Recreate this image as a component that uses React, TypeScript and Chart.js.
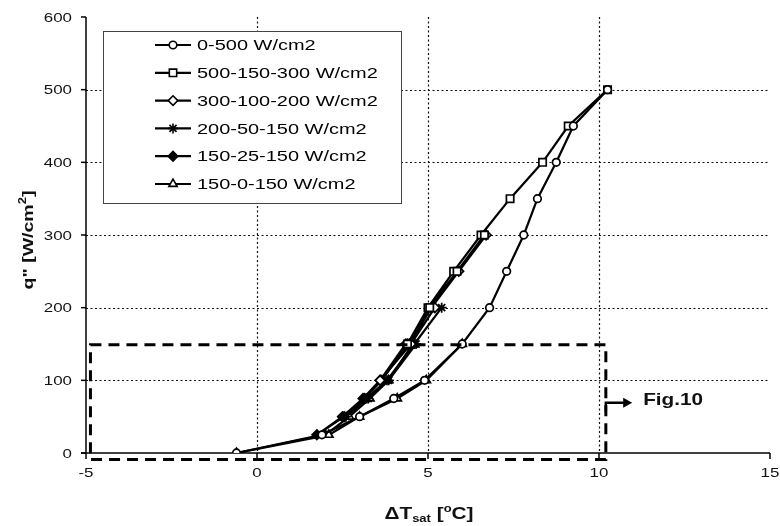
import React, { useEffect, useRef } from "react";
import { Chart, registerables } from "chart.js";
import { drawPoint } from "chart.js/helpers";

Chart.register(...registerables);

// Axis ranges and tick values
const X_MIN = -5;
const X_MAX = 15;
const X_STEP = 5;
const Y_MIN = 0;
const Y_MAX = 600;
const Y_STEP = 100;

// Series names
const SERIES_LABELS = [
  "0-500 W/cm2",
  "500-150-300 W/cm2",
  "300-100-200 W/cm2",
  "200-50-150 W/cm2",
  "150-25-150 W/cm2",
  "150-0-150 W/cm2",
];

// Wall superheat ΔTsat [°C] and heat flux q'' [W/cm2] for each run
const DT_0_500 = [-0.6, 1.9, 3.0, 4.0, 4.9, 6.0, 6.8, 7.3, 7.8, 8.2, 8.75, 9.25, 10.25];
const Q_0_500 = [0, 25, 50, 75, 100, 150, 200, 250, 300, 350, 400, 450, 500];

const DT_500_150_300 = [10.25, 9.1, 8.35, 7.4, 6.55, 5.75, 5.0, 4.4, 5.05, 5.85, 6.65];
const Q_500_150_300 = [500, 450, 400, 350, 300, 250, 200, 150, 200, 250, 300];

const DT_300_100_200 = [6.7, 5.9, 5.1, 4.45, 3.6, 4.5, 5.2];
const Q_300_100_200 = [300, 250, 200, 150, 100, 150, 200];

const DT_200_50_150 = [5.4, 4.6, 3.8, 3.2, 2.6, 3.25, 3.85, 4.65];
const Q_200_50_150 = [200, 150, 100, 75, 50, 75, 100, 150];

const DT_150_25_150 = [4.35, 3.6, 3.1, 2.5, 1.75, 2.55, 3.15, 3.65, 4.4];
const Q_150_25_150 = [150, 100, 75, 50, 25, 50, 75, 100, 150];

const DT_150_0_150 = [4.55, 3.85, 3.3, 2.7, 2.0, -0.6, 2.1, 3.0, 4.1, 4.95, 6.0];
const Q_150_0_150 = [150, 100, 75, 50, 25, 0, 25, 50, 75, 100, 150];

const SERIES_DT = [DT_0_500, DT_500_150_300, DT_300_100_200, DT_200_50_150, DT_150_25_150, DT_150_0_150];
const SERIES_Q = [Q_0_500, Q_500_150_300, Q_300_100_200, Q_200_50_150, Q_150_25_150, Q_150_0_150];

// Marker look per series
const POINT_STYLES = ["circle", "rect", "rectRot", "star", "rectRot", "triangle"];
const POINT_RADII = [3.8, 5.2, 4.8, 5, 4.8, 4.8];
const POINT_FILLS = ["#fff", "#fff", "#fff", "#000", "#000", "#fff"];

// Zoomed region outline (data units) and its caption
const ZOOM_BOX_X = [-4.87, 10.2];
const ZOOM_BOX_Y = [-9, 149];
const ZOOM_ARROW_Y = 69;
const ZOOM_ARROW_END_X = 10.97;
const ZOOM_CAPTION = "Fig.10";

const TEXT_STRETCH = 1.3;
const FONT = "'Liberation Sans', Arial, sans-serif";

type Seg = { t: string; size: number; dy: number };

function wideText(
  ctx: CanvasRenderingContext2D,
  text: string,
  x: number,
  y: number,
  font: string,
  align: CanvasTextAlign,
  sx = TEXT_STRETCH
) {
  ctx.save();
  ctx.translate(x, y);
  ctx.scale(sx, 1);
  ctx.font = font;
  ctx.textAlign = align;
  ctx.textBaseline = "middle";
  ctx.fillText(text, 0, 0);
  ctx.restore();
}

function richText(
  ctx: CanvasRenderingContext2D,
  segs: Seg[],
  x: number,
  y: number,
  rotate: number,
  sx = TEXT_STRETCH
) {
  ctx.save();
  ctx.translate(x, y);
  ctx.rotate(rotate);
  ctx.scale(sx, 1);
  ctx.textAlign = "left";
  ctx.textBaseline = "alphabetic";
  const widths = segs.map((s) => {
    ctx.font = `bold ${s.size}px ${FONT}`;
    return ctx.measureText(s.t).width;
  });
  let cx = -widths.reduce((a, b) => a + b, 0) / 2;
  segs.forEach((s, i) => {
    ctx.font = `bold ${s.size}px ${FONT}`;
    ctx.fillText(s.t, cx, s.dy);
    cx += widths[i];
  });
  ctx.restore();
}

function seg(
  ctx: CanvasRenderingContext2D,
  x1: number,
  y1: number,
  x2: number,
  y2: number
) {
  ctx.beginPath();
  ctx.moveTo(x1, y1);
  ctx.lineTo(x2, y2);
  ctx.stroke();
}

const framePlugin = {
  id: "frame",
  beforeDatasetsDraw(chart: any) {
    const { ctx, chartArea: a, scales } = chart;
    const xs = scales.x;
    const ys = scales.y;
    ctx.save();
    // dotted grid inside the plot
    ctx.strokeStyle = "#111";
    ctx.lineWidth = 1.2;
    ctx.setLineDash([2, 2.5]);
    xs.ticks.forEach((t: any) => {
      if (t.value === xs.min || t.value === xs.max) return;
      const px = Math.round(xs.getPixelForValue(t.value)) + 0.5;
      seg(ctx, px, a.top, px, a.bottom);
    });
    ys.ticks.forEach((t: any) => {
      if (t.value === ys.min || t.value === ys.max) return;
      const py = Math.round(ys.getPixelForValue(t.value)) + 0.5;
      seg(ctx, a.left, py, a.right, py);
    });
    // solid axes with outward tick marks
    ctx.setLineDash([]);
    ctx.strokeStyle = "#000";
    ctx.lineWidth = 1.5;
    seg(ctx, a.left, a.top, a.left, a.bottom);
    seg(ctx, a.left - 5, a.bottom, a.right, a.bottom);
    xs.ticks.forEach((t: any) => {
      const px = xs.getPixelForValue(t.value);
      seg(ctx, px, a.bottom, px, a.bottom + 6);
    });
    ys.ticks.forEach((t: any) => {
      const py = ys.getPixelForValue(t.value);
      seg(ctx, a.left - 5, py, a.left, py);
    });
    ctx.restore();
  },
  afterDatasetsDraw(chart: any) {
    const { ctx, chartArea: a, scales } = chart;
    const xs = scales.x;
    const ys = scales.y;
    ctx.save();

    // dashed outline of the zoomed region
    const bx1 = xs.getPixelForValue(ZOOM_BOX_X[0]);
    const bx2 = xs.getPixelForValue(ZOOM_BOX_X[1]);
    const by1 = ys.getPixelForValue(ZOOM_BOX_Y[1]);
    const by2 = ys.getPixelForValue(ZOOM_BOX_Y[0]);
    ctx.strokeStyle = "#000";
    ctx.lineWidth = 3;
    ctx.setLineDash([11, 7]);
    ctx.strokeRect(bx1, by1, bx2 - bx1, by2 - by1);

    // arrow pointing at the caption
    ctx.setLineDash([]);
    ctx.lineWidth = 2.5;
    const ay = ys.getPixelForValue(ZOOM_ARROW_Y);
    const ax2 = xs.getPixelForValue(ZOOM_ARROW_END_X);
    ctx.beginPath();
    ctx.moveTo(bx2, ay + 9);
    ctx.lineTo(bx2, ay);
    ctx.lineTo(ax2 - 7, ay);
    ctx.stroke();
    ctx.fillStyle = "#000";
    ctx.beginPath();
    ctx.moveTo(ax2, ay);
    ctx.lineTo(ax2 - 9, ay - 5);
    ctx.lineTo(ax2 - 9, ay + 5);
    ctx.closePath();
    ctx.fill();
    ctx.fillStyle = "#111";
    wideText(ctx, ZOOM_CAPTION, ax2 + 11, ay - 3, `bold 17px ${FONT}`, "left", 1.22);

    // tick labels
    ctx.fillStyle = "#111";
    xs.ticks.forEach((t: any) => {
      wideText(ctx, String(t.value), xs.getPixelForValue(t.value), a.bottom + 20, `13px ${FONT}`, "center");
    });
    ys.ticks.forEach((t: any) => {
      wideText(ctx, String(t.value), a.left - 14, ys.getPixelForValue(t.value) + 1, `13px ${FONT}`, "right");
    });

    // axis titles
    richText(
      ctx,
      [
        { t: "Δ", size: 16, dy: 0 },
        { t: "T", size: 16, dy: 0 },
        { t: "sat", size: 10, dy: 3 },
        { t: " [", size: 16, dy: 0 },
        { t: "o", size: 10, dy: -7 },
        { t: "C]", size: 16, dy: 0 },
      ],
      (a.left + a.right) / 2 + 1,
      519,
      0,
      1.3
    );
    richText(
      ctx,
      [
        { t: 'q" [W/cm', size: 15, dy: 0 },
        { t: "2", size: 10, dy: -7 },
        { t: "]", size: 15, dy: 0 },
      ],
      33,
      240,
      -Math.PI / 2,
      1.3
    );

    // legend box
    const lx = a.left + 17;
    const ly = a.top + 14;
    ctx.fillStyle = "#fff";
    ctx.fillRect(lx, ly, 298, 172);
    ctx.strokeStyle = "#444";
    ctx.lineWidth = 1;
    ctx.strokeRect(lx + 0.5, ly + 0.5, 298, 172);
    chart.data.datasets.forEach((ds: any, i: number) => {
      const ry = ly + 14 + i * 27.8;
      ctx.strokeStyle = "#000";
      ctx.lineWidth = 2.2;
      seg(ctx, lx + 52, ry, lx + 88, ry);
      ctx.fillStyle = ds.pointBackgroundColor;
      ctx.lineWidth = 1.6;
      drawPoint(ctx, { pointStyle: ds.pointStyle, radius: ds.pointRadius, rotation: 0, borderWidth: 1.6 } as any, lx + 70, ry);
      ctx.fillStyle = "#000";
      wideText(ctx, ds.label, lx + 94, ry + 1, `15px ${FONT}`, "left", 1.33);
    });

    ctx.restore();
  },
};

export default function App() {
  const canvasRef = useRef<HTMLCanvasElement | null>(null);

  useEffect(() => {
    const canvas = canvasRef.current;
    if (!canvas) return;

    const datasets = SERIES_LABELS.map((label, i) => ({
      label,
      data: SERIES_DT[i].map((dt, j) => ({ x: dt, y: SERIES_Q[i][j] })),
      showLine: true,
      borderColor: "#000",
      borderWidth: 2.2,
      pointStyle: POINT_STYLES[i],
      pointRadius: POINT_RADII[i],
      pointBackgroundColor: POINT_FILLS[i],
      pointBorderColor: "#000",
      pointBorderWidth: 1.7,
      tension: 0,
    }));

    const chart = new Chart(canvas, {
      type: "scatter",
      data: { datasets },
      options: {
        responsive: false,
        animation: false,
        events: [],
        layout: { padding: { left: 0, right: 10, top: 17, bottom: 0 } },
        plugins: { legend: { display: false }, tooltip: { enabled: false } },
        scales: {
          x: {
            type: "linear",
            min: X_MIN,
            max: X_MAX,
            ticks: { stepSize: X_STEP, display: false },
            grid: { display: false },
            border: { display: false },
            afterFit: (s: any) => {
              s.height = 73;
            },
          },
          y: {
            type: "linear",
            min: Y_MIN,
            max: Y_MAX,
            ticks: { stepSize: Y_STEP, display: false },
            grid: { display: false },
            border: { display: false },
            afterFit: (s: any) => {
              s.width = 86;
            },
          },
        },
      } as any,
      plugins: [framePlugin],
    });

    return () => chart.destroy();
  }, []);

  return (
    <div style={{ position: "fixed", left: 0, top: 0, width: 780, height: 526, background: "#fff" }}>
      <canvas ref={canvasRef} width={780} height={526} style={{ display: "block" }} />
    </div>
  );
}
